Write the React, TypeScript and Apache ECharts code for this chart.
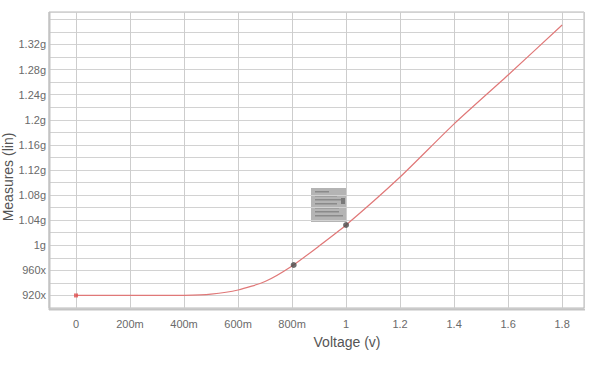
import React, { useEffect, useRef } from "react";
import * as echarts from "echarts";

const voltage = [0, 0.1, 0.2, 0.3, 0.4, 0.5, 0.6, 0.7, 0.8, 0.9, 1.0, 1.2, 1.4, 1.6, 1.8];
const measures = [0.92, 0.92, 0.92, 0.92, 0.9202, 0.9222, 0.9287, 0.9422, 0.967, 0.9988, 1.0323, 1.1088, 1.1935, 1.2714, 1.351];
const markerVoltage = [0.806, 1.0];
const markerMeasures = [0.9685, 1.0323];

function fmtX(v: number): string {
  if (Math.abs(v * 5 - Math.round(v * 5)) > 1e-6) return "";
  if (Math.abs(v) < 1e-9) return "0";
  if (v < 1) return `${Math.round(v * 1000)}m`;
  return String(+v.toFixed(1));
}

function fmtY(v: number): string {
  const k = Math.round(v * 100);
  if (Math.abs(v * 100 - k) > 1e-6) return "";
  if (k % 4 !== 0 || v > 1.33) return "";
  if (v < 1) return `${Math.round(v * 1000)}x`;
  return `${+v.toFixed(2)}g`;
}

export default function App() {
  const ref = useRef<HTMLDivElement>(null);
  useEffect(() => {
    if (!ref.current) return;
    const chart = echarts.init(ref.current, null, { renderer: "svg" });
    const font = "Liberation Sans";
    chart.setOption({
      animation: false,
      backgroundColor: "#ffffff",
      grid: {
        left: 49,
        top: 12,
        width: 535,
        height: 296,
        show: true,
        borderColor: "#b8b8b8",
        borderWidth: 1,
        containLabel: false,
      },
      xAxis: {
        type: "value",
        min: -0.1,
        max: 1.881,
        splitNumber: 10,
        minInterval: 0.2,
        maxInterval: 0.2,
        axisLine: { show: false },
        axisTick: { show: false },
        splitLine: { show: true, lineStyle: { color: "#cdcdcd", width: 1 } },
        axisLabel: {
          interval: 0,
          formatter: fmtX,
          color: "#6a6a6a",
          fontSize: 11,
          fontFamily: font,
          margin: 10,
          showMinLabel: true,
          showMaxLabel: true,
        },
      },
      yAxis: {
        type: "value",
        min: 0.9,
        max: 1.3718,
        interval: 0.02,
        axisLine: { show: false },
        axisTick: { show: false },
        splitLine: { show: true, lineStyle: { color: "#d2d2d2", width: 1 } },
        axisLabel: {
          interval: 0,
          formatter: fmtY,
          color: "#6a6a6a",
          fontSize: 11,
          fontFamily: font,
          margin: 3,
        },
      },
      graphic: [
        { type: "line", shape: { x1: 49.5, y1: 12, x2: 49.5, y2: 310 }, style: { stroke: "#c4c4c4", lineWidth: 2 }, z: 10 },
        { type: "line", shape: { x1: 49, y1: 309.5, x2: 585, y2: 309.5 }, style: { stroke: "#c4c4c4", lineWidth: 2 }, z: 10 },
        {
          type: "text",
          x: 347,
          y: 342,
          style: { text: "Voltage (v)", font: `14px ${font}`, fill: "#555", align: "center", verticalAlign: "middle" },
        },
        {
          type: "text",
          x: 8,
          y: 177,
          rotation: Math.PI / 2,
          style: { text: "Measures (lin)", font: `14px ${font}`, fill: "#555", align: "center", verticalAlign: "middle" },
        },
        {
          type: "group",
          x: 311,
          y: 188,
          z: 20,
          children: [
            { type: "rect", shape: { x: 0, y: 0, width: 36, height: 34 }, style: { fill: "#b4b4b4" } },
            { type: "rect", shape: { x: 4, y: 3, width: 14, height: 1.5 }, style: { fill: "#8a8a8a" } },
            { type: "rect", shape: { x: 4, y: 7, width: 22, height: 1.5 }, style: { fill: "#8a8a8a" } },
            { type: "rect", shape: { x: 4, y: 11, width: 26, height: 1.5 }, style: { fill: "#8a8a8a" } },
            { type: "rect", shape: { x: 4, y: 15, width: 22, height: 1.5 }, style: { fill: "#8a8a8a" } },
            { type: "rect", shape: { x: 4, y: 19, width: 24, height: 1.5 }, style: { fill: "#8a8a8a" } },
            { type: "rect", shape: { x: 4, y: 23, width: 24, height: 1.5 }, style: { fill: "#8a8a8a" } },
            { type: "rect", shape: { x: 4, y: 27, width: 28, height: 1.5 }, style: { fill: "#8a8a8a" } },
            { type: "rect", shape: { x: 30, y: 10, width: 4, height: 6 }, style: { fill: "#7a7a7a" } },
          ],
        },
      ],
      series: [
        {
          type: "line",
          data: voltage.map((v, i) => [v, measures[i]]),
          showSymbol: false,
          smooth: 0.2,
          lineStyle: { color: "#e07878", width: 1.2 },
          z: 5,
        },
        {
          type: "scatter",
          data: [[voltage[0], measures[0]]],
          symbol: "rect",
          symbolSize: 4,
          itemStyle: { color: "#e05050" },
          z: 6,
        },
        {
          type: "scatter",
          data: markerVoltage.map((v, i) => [v, markerMeasures[i]]),
          symbol: "circle",
          symbolSize: 6,
          itemStyle: { color: "#4a4a4a" },
          z: 7,
        },
      ],
    });
    return () => chart.dispose();
  }, []);
  return <div ref={ref} style={{ position: "fixed", left: 0, top: 0, width: 591, height: 366 }} />;
}
